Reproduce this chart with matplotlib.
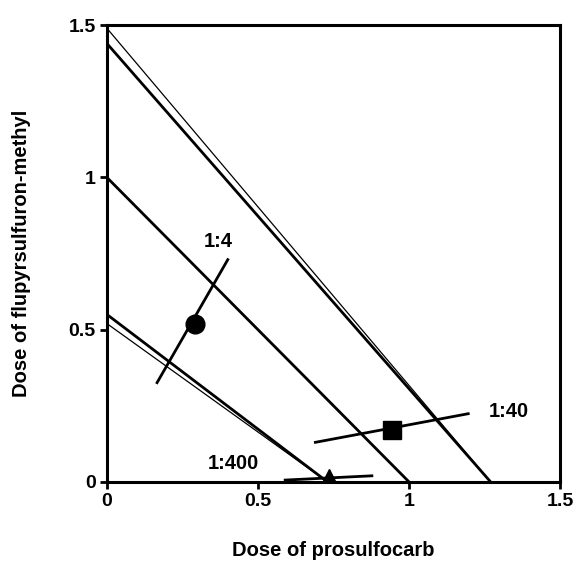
import matplotlib
matplotlib.use("Agg")
import matplotlib.pyplot as plt

plt.rcParams['font.family'] = ['Liberation Sans', 'DejaVu Sans']
plt.rcParams['font.weight'] = 'bold'

# isobole lines: (y intercept, x intercept)
thick_lines = [(1.44, 1.27), (1.0, 1.0), (0.55, 0.73)]
thin_lines = [(1.49, 1.27), (0.52, 0.73)]

# observed mixtures: point, error bar ends, label
ratios = ["1:4", "1:40", "1:400"]
pts_x = [0.29, 0.943, 0.734]
pts_y = [0.52, 0.171, 0.016]
bar_x = [(0.166, 0.40), (0.69, 1.196), (0.59, 0.877)]
bar_y = [(0.326, 0.73), (0.13, 0.224), (0.006, 0.02)]
markers = ["o", "s", "^"]
msizes = [13.5, 13, 12]
label_xy = [(0.37, 0.79), (1.33, 0.23), (0.42, 0.06)]

fig = plt.figure(figsize=(5.78, 5.61), dpi=100)
ax = fig.add_axes([0.185, 0.141, 0.784, 0.814])

for yi, xi in thick_lines:
    ax.plot([0, xi], [yi, 0], color="black", lw=2.0, solid_capstyle="butt")
for yi, xi in thin_lines:
    ax.plot([0, xi], [yi, 0], color="black", lw=0.9)

for i in range(len(ratios)):
    ax.plot(bar_x[i], bar_y[i], color="black", lw=2.0)
    ax.plot(pts_x[i], pts_y[i], marker=markers[i], color="black", ms=msizes[i], ls="none")
    ax.text(label_xy[i][0], label_xy[i][1], ratios[i], fontsize=14.5, fontweight="bold",
            ha="center", va="center")

ax.set_xlim(0, 1.5)
ax.set_ylim(0, 1.5)
ax.set_xticks([0, 0.5, 1, 1.5])
ax.set_xticklabels(["0", "0.5", "1", "1.5"])
ax.set_yticks([0, 0.5, 1, 1.5])
ax.set_yticklabels(["0", "0.5", "1", "1.5"])
ax.tick_params(direction="out", length=5, width=2, labelsize=14, pad=3)
for s in ax.spines.values():
    s.set_linewidth(2.2)

ax.set_xlabel("Dose of prosulfocarb", fontsize=14.5, fontweight="bold", labelpad=22)
ax.set_ylabel("Dose of flupyrsulfuron-methyl", fontsize=14.5, fontweight="bold", labelpad=27)

fig.savefig("out.png", dpi=100)
